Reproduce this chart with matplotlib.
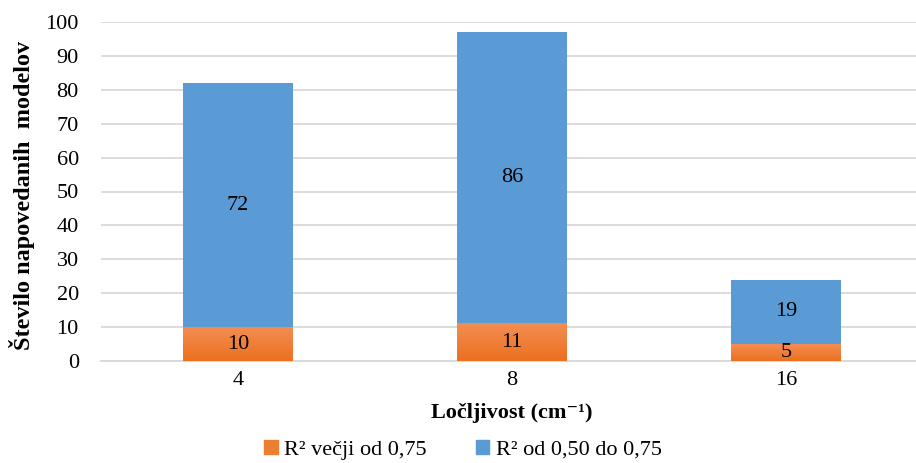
import matplotlib.pyplot as plt
import numpy as np
from matplotlib.patches import Patch
from matplotlib.colors import LinearSegmentedColormap

plt.rcParams['font.family'] = ['Liberation Serif', 'DejaVu Serif']

resolutions = ['4', '8', '16']
r2_above_075 = [10, 11, 5]
r2_050_075 = [72, 86, 19]

blue = '#5B9BD5'
orange = '#ED7D31'
orange_cmap = LinearSegmentedColormap.from_list('og', ['#EC701F', '#F38D52'])

W, H = 916, 463
fig = plt.figure(figsize=(W/100, H/100), dpi=100)
ax = fig.add_axes([101/W, (H-361)/H, 815/W, 339/H])

x = np.arange(len(resolutions))
w = 0.4
ax.bar(x, r2_above_075, w, color=orange, zorder=2)
ax.bar(x, r2_050_075, w, bottom=r2_above_075, color=blue, zorder=2)

# vertical gradient on the orange segments
grad = np.linspace(0, 1, 100).reshape(-1, 1)
for xi, v in zip(x, r2_above_075):
    ax.imshow(grad, extent=[xi - w/2, xi + w/2, 0, v], origin='lower',
              cmap=orange_cmap, aspect='auto', zorder=3)

for xi, o, b in zip(x, r2_above_075, r2_050_075):
    ax.text(xi, o/2, str(o), ha='center', va='center', fontsize=16, zorder=4)
    ax.text(xi, o + b/2, str(b), ha='center', va='center', fontsize=16, zorder=4)

ax.set_xlim(-0.5, 2.475)
ax.set_ylim(0, 100)
ax.set_yticks(range(0, 101, 10))
ax.set_xticks(x)
ax.set_xticklabels(resolutions)
ax.tick_params(axis='both', length=0, labelsize=16)
ax.tick_params(axis='y', pad=16)
ax.tick_params(axis='x', pad=7)
ax.yaxis.grid(True, color='#D9D9D9', linewidth=1.3, zorder=0)
ax.set_axisbelow(True)
for s in ['top', 'right', 'left']:
    ax.spines[s].set_visible(False)
ax.spines['bottom'].set_color('#D9D9D9')
ax.spines['bottom'].set_linewidth(1.3)

fig.text(512/W, (H-413)/H, 'Ločljivost (cm⁻¹)', ha='center', va='center',
         fontsize=16, fontweight='bold')
fig.text(22/W, (H-195)/H, 'Število napovedanih  modelov', ha='center', va='center',
         rotation=90, fontsize=17.5, fontweight='bold')

handles = [Patch(color=orange, label='R² večji od 0,75'),
           Patch(color=blue, label='R² od 0,50 do 0,75')]
fig.legend(handles=handles, loc='center', bbox_to_anchor=(463/W, 13/H), ncol=2,
           frameon=False, fontsize=16, handlelength=0.6, handleheight=0.6,
           handletextpad=0.3, columnspacing=2.2, borderpad=0, borderaxespad=0)

plt.savefig('out.png', dpi=100)
